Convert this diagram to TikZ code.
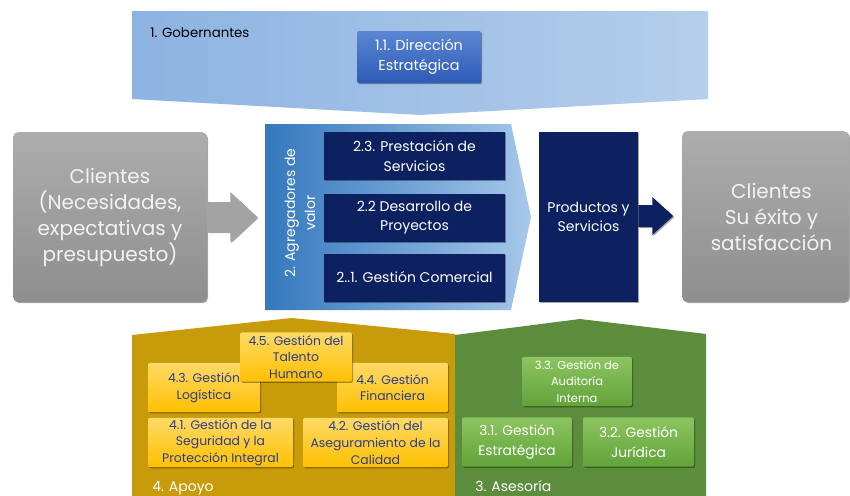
\documentclass[tikz,border=0pt]{standalone}
\usepackage{fontspec}
\setmainfont{Poppins}
\usetikzlibrary{shadows,calc}
\definecolor{topL}{HTML}{8DB3E2}
\definecolor{topR}{HTML}{B5CEEB}
\definecolor{midL}{HTML}{3478BE}
\definecolor{midR}{HTML}{A6C8EA}
\definecolor{navy}{HTML}{0D2160}
\definecolor{grayT}{HTML}{ADADAD}
\definecolor{grayB}{HTML}{8E8E8E}
\definecolor{grayA}{HTML}{A3A3A3}
\definecolor{grayTxt}{HTML}{F2F2F2}
\definecolor{gold}{HTML}{C89B0A}
\definecolor{leaf}{HTML}{5B8D3C}
\definecolor{yelT}{HTML}{FFD966}
\definecolor{yelB}{HTML}{FFC000}
\definecolor{yelTxt}{HTML}{2A3C8E}
\definecolor{grnT}{HTML}{8CC460}
\definecolor{grnB}{HTML}{62A33A}
\definecolor{dirT}{HTML}{5A86D2}
\definecolor{dirB}{HTML}{2D5BB6}
\begin{document}
\begin{tikzpicture}[x=0.75pt,y=-0.75pt,
  shd/.style={drop shadow={shadow xshift=0.8pt,shadow yshift=-0.9pt,opacity=0.35,fill=black}},
  graybox/.style={shd,rounded corners=4pt,top color=grayT,bottom color=grayB,text=grayTxt,
     align=center,font=\fontsize{15}{19.5}\selectfont,inner sep=0pt},
  navybox/.style={shd,fill=navy,text=white,align=center,
     font=\fontsize{10.5}{14.5}\selectfont,inner sep=0pt},
  dirbox/.style={shd,rounded corners=1.5pt,top color=dirT,bottom color=dirB,text=white,align=center,
     font=\fontsize{10.8}{15}\selectfont,inner sep=0pt,minimum width=93pt,minimum height=39pt},
  yelbox/.style={shd,rounded corners=1.5pt,top color=yelT,bottom color=yelB,text=yelTxt,align=center,
     font=\fontsize{9.3}{12.5}\selectfont,inner sep=0pt,minimum height=37pt},
  grnbox/.style={shd,rounded corners=1.5pt,top color=grnT,bottom color=grnB,text=white,align=center,
     inner sep=0pt,minimum height=37pt},
  lbl/.style={anchor=west,inner sep=0pt,font=\fontsize{10}{12}\selectfont}
]
\useasboundingbox (0,0) rectangle (850,496);
\fill[white] (0,0) rectangle (850,496);

% 1. Gobernantes band
\path[left color=topL,right color=topR] (132,11) -- (708,11) -- (708,99) -- (420,115) -- (132,99) -- cycle;
\node[lbl,text=black] (gob) at (150,33) {1. Gobernantes};
\node[dirbox] (dir) at (419,57) {1.1. Dirección\\Estratégica};

% 2. Agregadores
\path[left color=midL,right color=midR] (265,124) -- (511,124) -- (531,217) -- (511,310) -- (265,310) -- cycle;
\node[rotate=90,text=white,align=center,inner sep=0pt,font=\fontsize{10.5}{15}\selectfont] (agr) at (300,213) {2. Agregadores de\\valor};
\node[navybox,minimum width=135.75pt,minimum height=36pt] (n23) at (414.5,156) {2.3. Prestación de\\Servicios};
\node[navybox,minimum width=135.75pt,minimum height=36pt] (n22) at (414.5,217.5) {2.2 Desarrollo de\\Proyectos};
\node[navybox,minimum width=135.75pt,minimum height=36pt] (n21) at (414.5,277.5) {2..1. Gestión Comercial};
\node[navybox,minimum width=74.25pt,minimum height=127.5pt] (prod) at (588.5,217) {Productos y\\Servicios};

% Clients
\node[graybox,minimum width=145.5pt,minimum height=127.5pt] (cl) at (110,217) {Clientes\\(Necesidades,\\expectativas y\\presupuesto)};
\node[graybox,minimum width=125.25pt,minimum height=128pt] (cr) at (765.5,216.5) {\hspace*{9pt}Clientes\\\hspace*{9pt}Su éxito y\\\hspace*{9pt}satisfacción};

% block arrows
\fill[shd,grayA] (cl.east) ++(0,-15) -- ++(23,0) -- ++(0,-10) -- ++(27,25) -- ++(-27,25) -- ++(0,-10) -- ++(-23,0) -- cycle;
\fill[shd,navy] ($(prod.east)+(0,-1)$) ++(0,-11) -- ++(14,0) -- ++(0,-8) -- ++(21,19) -- ++(-21,19) -- ++(0,-8) -- ++(-14,0) -- cycle;

% 4. Apoyo and 3. Asesoria
\fill[gold] (132,335) -- (292,318) -- (455,334) -- (455,496) -- (132,496) -- cycle;
\fill[leaf] (455,335) -- (580,319) -- (706,334) -- (706,496) -- (455,496) -- cycle;
\node[lbl,text=white,font=\fontsize{10.5}{12}\selectfont] (apoyo) at (152,488) {4. Apoyo};
\node[lbl,text=white,font=\fontsize{10.5}{12}\selectfont] (ases) at (475,486) {3. Asesoría};

\node[yelbox,minimum width=84pt] (y43) at (204,387.5) {4.3. Gestión\\Logística};
\node[yelbox,minimum width=83.25pt] (y44) at (392.5,387.5) {4.4. Gestión\\Financiera};
\node[yelbox,minimum width=84pt] (y45) at (296,357) {4.5. Gestión del\\Talento\\Humano};
\node[yelbox,minimum width=108.75pt] (y41) at (220.5,442.5) {4.1. Gestión de la\\Seguridad y la\\Protección Integral};
\node[yelbox,minimum width=108.75pt] (y42) at (375.5,442.5) {4.2. Gestión del\\Aseguramiento de la\\Calidad};

\node[grnbox,minimum width=82.5pt,font=\fontsize{8.6}{12.2}\selectfont] (g33) at (577,381.5) {3.3. Gestión de\\Auditoría\\Interna};
\node[grnbox,minimum width=82.5pt,font=\fontsize{10.3}{15}\selectfont] (g31) at (517,442) {3.1. Gestión\\Estratégica};
\node[grnbox,minimum width=83.25pt,font=\fontsize{10.3}{15}\selectfont] (g32) at (638.5,442) {3.2. Gestión\\Jurídica};
\end{tikzpicture}
\end{document}
